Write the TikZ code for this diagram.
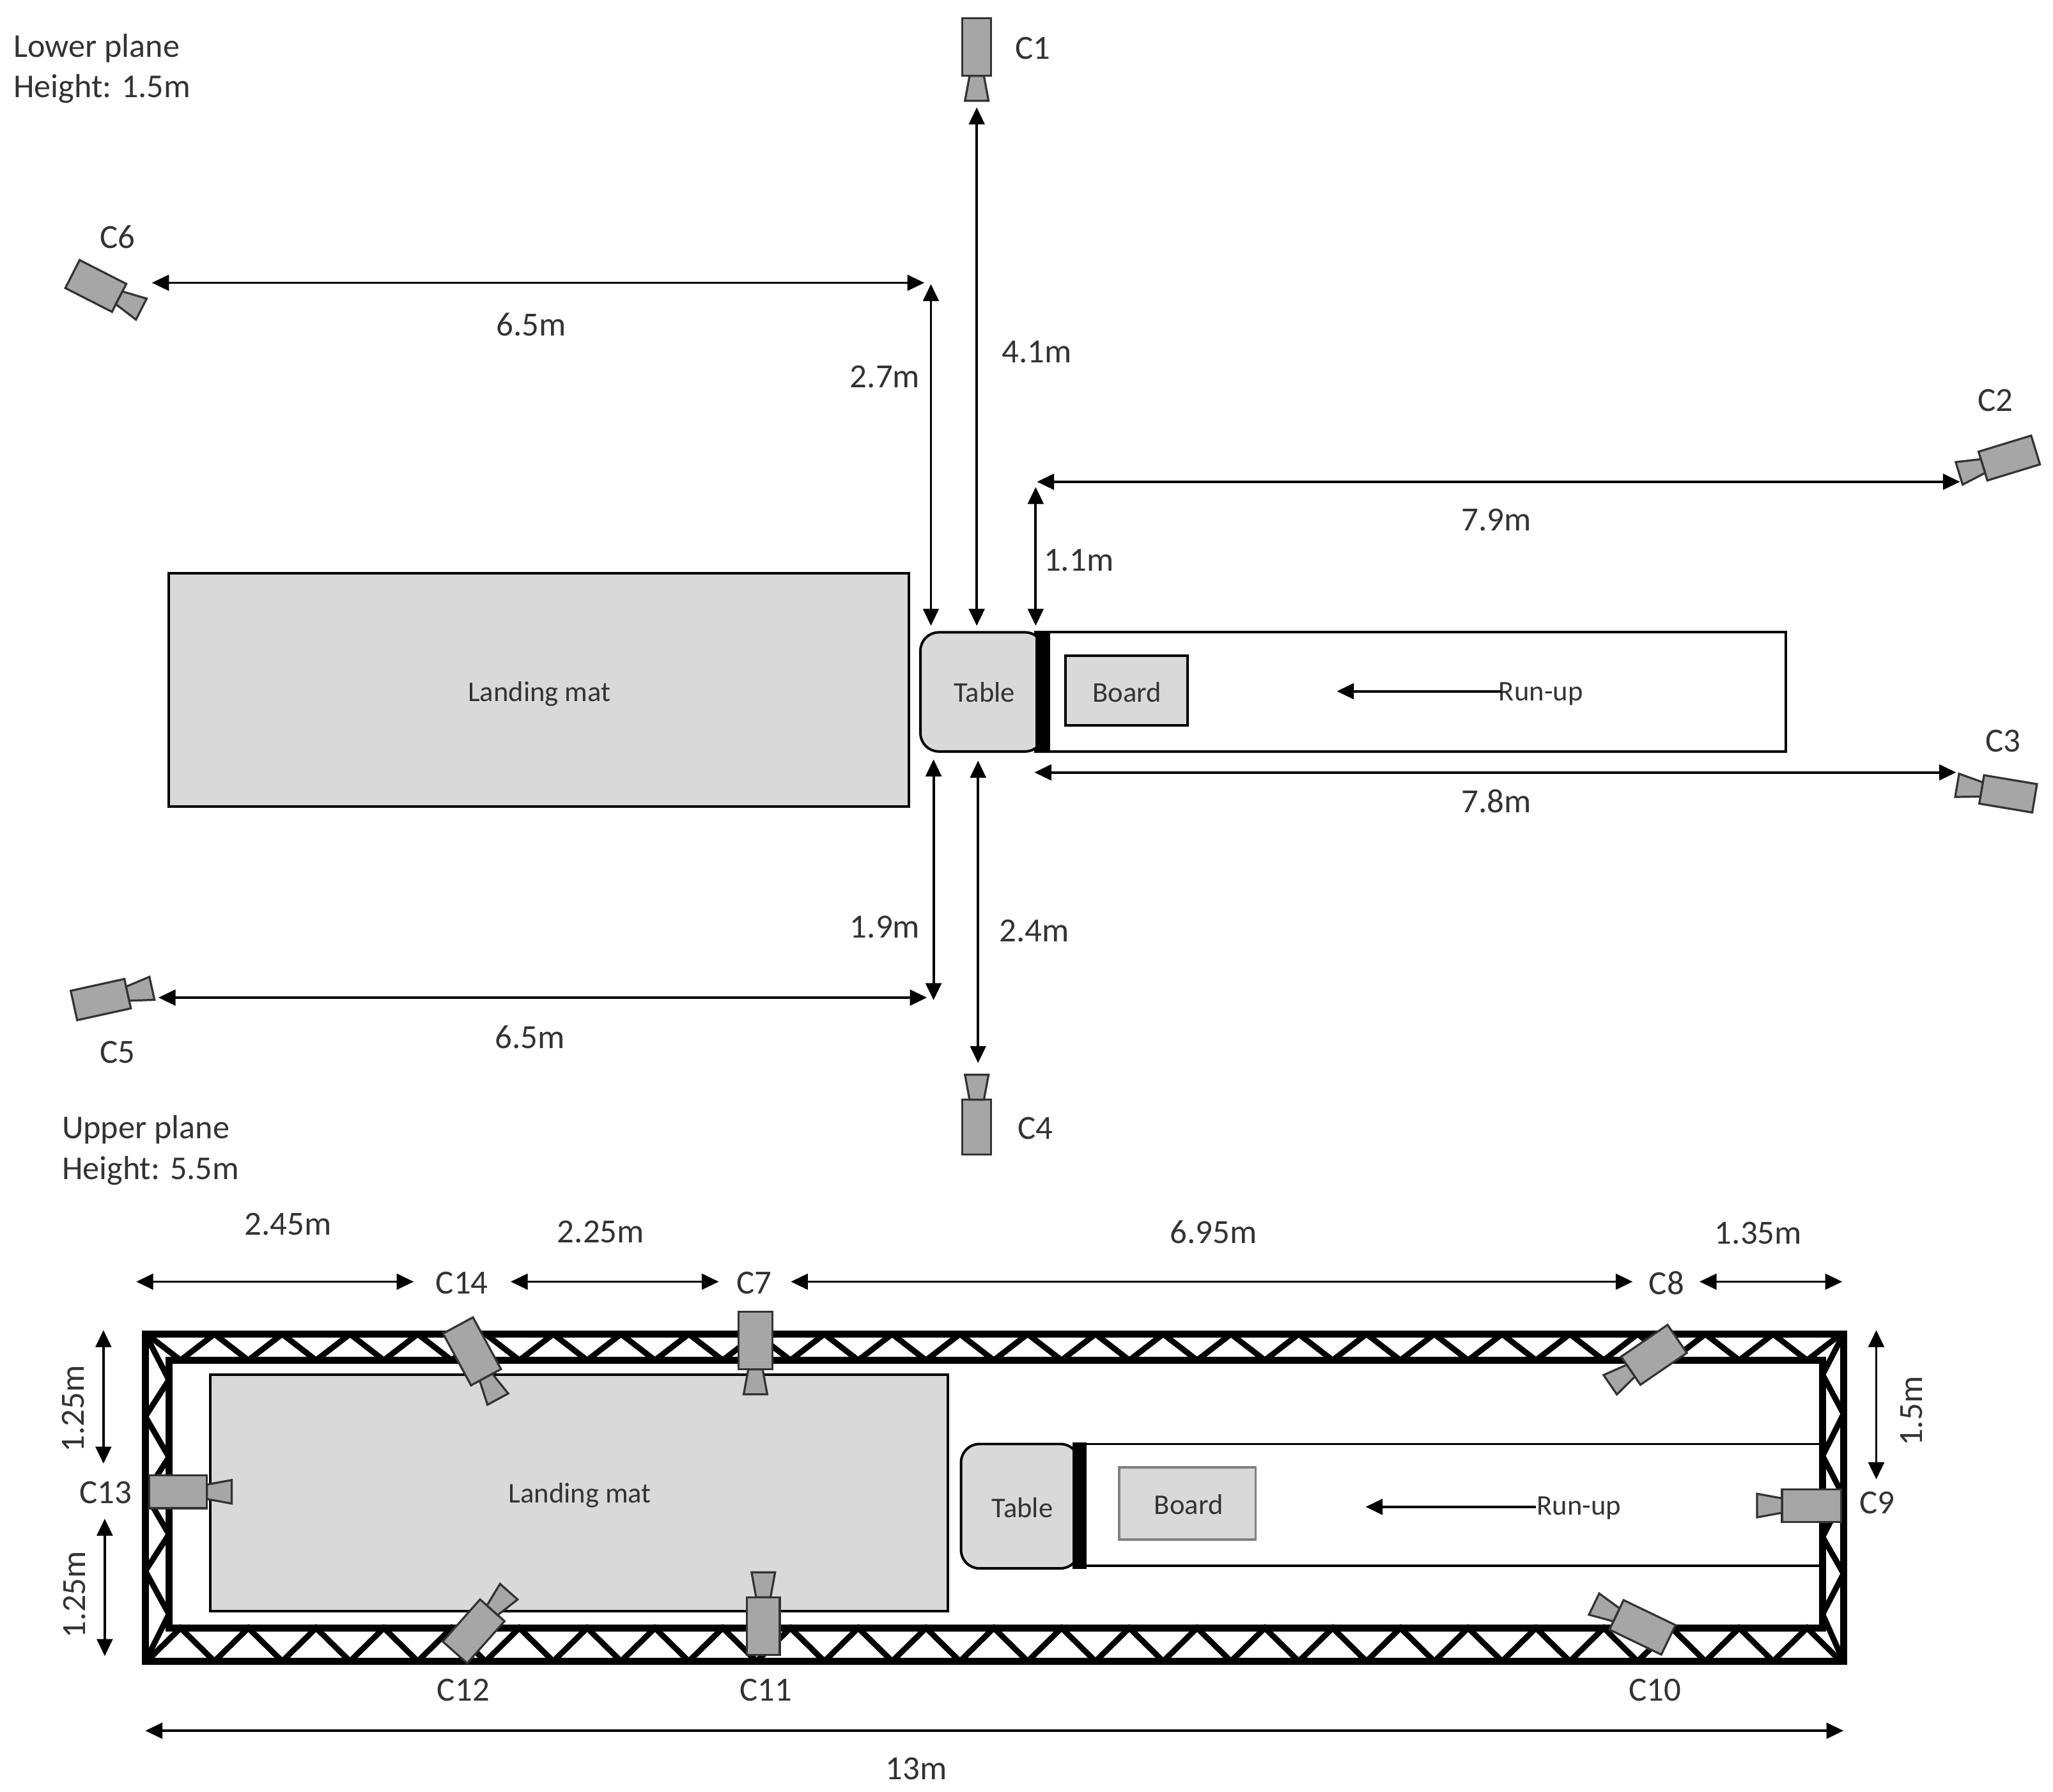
\documentclass[tikz,border=0pt]{standalone}
\usepackage{fontspec}
\setmainfont{Carlito}
\usetikzlibrary{arrows.meta}
\definecolor{matgrey}{HTML}{D9D9D9}
\definecolor{camgrey}{HTML}{A6A6A6}
\definecolor{inkgrey}{HTML}{333333}
\tikzset{
  dim/.style={draw=black,line width=1.1pt,{Triangle[length=7.4pt,width=6.8pt]}-{Triangle[length=7.4pt,width=6.8pt]}},
  lab/.style={inner sep=0pt,xshift=.5pt,text=inkgrey,font=\fontsize{14.7}{16}\selectfont},
  smalllab/.style={inner sep=0pt,xshift=.5pt,text=inkgrey,font=\fontsize{12.4}{14}\selectfont},
  plane/.style={inner sep=0pt,anchor=west,text=inkgrey,font=\fontsize{14.5}{16}\selectfont},
  block/.style={draw=black,fill=matgrey,line width=1.1pt},
  trussbar/.style={draw=black,line width=3pt,line join=miter},
  trussdiag/.style={draw=black,line width=2.5pt,line join=miter},
  pics/camera/.style n args={2}{code={
    \draw[draw=black!80,fill=camgrey,line width=.9pt] (-#2,-#1/2) rectangle (0,#1/2);
    \draw[draw=black!80,fill=camgrey,line width=.9pt] (0,-5.5) -- (19,-9) -- (19,9) -- (0,5.5) -- cycle;
  }},
}
\begin{document}
\begin{tikzpicture}[x=.02cm,y=-.02cm]
\useasboundingbox (0,0) rectangle (1568,1368.8);
% lower plane
\draw[block] (129,438) rectangle (694,616);
\draw[line width=1.1pt] (791,483) rectangle (1364,574);
\draw[block,rounded corners=.28cm] (703,483) rectangle (797,574);
\fill[black] (791,482.5) rectangle (802,574.5);
\draw[block] (814,501) rectangle (907,554);
\node[smalllab] (matL) at (411,530) {Landing mat};
\node[smalllab] (tableL) at (751,529) {Table};
\node[smalllab] (boardL) at (860,529) {Board};
\node[smalllab] (runL) at (1176,530) {Run-up};
\coordinate (runLa) at (1146,528);
\coordinate (runLb) at (1021,528);
\draw[line width=1.1pt,-{Triangle[length=7.4pt,width=6.8pt]}] (runLa) -- (runLb);
\node[plane] (lowerA) at (10,37) {Lower plane};
\node[plane] (lowerB) at (10,68) {Height: 1.5m};
% lower plane cameras
\pic[rotate=-90] (camA) at (746,58) {camera={22}{44}};
\pic[rotate=197] (camB) at (1514.5,356) {camera={23}{42}};
\pic[rotate=170.5] (camC) at (1513.5,603) {camera={22}{41}};
\pic[rotate=90] (camD) at (746,840) {camera={22}{42}};
\pic[rotate=12.4] (camE) at (97.5,759) {camera={23}{42}};
\pic[rotate=-27] (camF) at (91,227.5) {camera={24}{40}};
\node[lab] (c1) at (788,37) {C1};
\node[lab] (c2) at (1523,306) {C2};
\node[lab] (c3) at (1529,566) {C3};
\node[lab] (c4) at (790,862) {C4};
\node[lab] (c5) at (89,804) {C5};
\node[lab] (c6) at (89,181) {C6};
% lower plane distances
\coordinate (fA) at (116,216);
\coordinate (fB) at (706,216);
\coordinate (gA) at (711,217);
\coordinate (gB) at (711,478);
\coordinate (hA) at (746,82);
\coordinate (hB) at (746,478);
\coordinate (iA) at (792,368);
\coordinate (iB) at (1497,368);
\coordinate (jA) at (791,372);
\coordinate (jB) at (791,478);
\coordinate (kA) at (790,590);
\coordinate (kB) at (1494,590);
\coordinate (lA) at (713,580);
\coordinate (lB) at (713,764);
\coordinate (mA) at (747,581);
\coordinate (mB) at (747,812);
\coordinate (nA) at (121,762);
\coordinate (nB) at (708,762);
\draw[dim] (fA) -- (fB);
\draw[dim] (gA) -- (gB);
\draw[dim] (hA) -- (hB);
\draw[dim] (iA) -- (iB);
\draw[dim] (jA) -- (jB);
\draw[dim] (kA) -- (kB);
\draw[dim] (lA) -- (lB);
\draw[dim] (mA) -- (mB);
\draw[dim] (nA) -- (nB);
\node[lab] (dF) at (405,248) {6.5m};
\node[lab] (dG) at (675,288) {2.7m};
\node[lab] (dH) at (791,269) {4.1m};
\node[lab] (dI) at (1142,397) {7.9m};
\node[lab] (dJ) at (823,428) {1.1m};
\node[lab] (dK) at (1142,612) {7.8m};
\node[lab] (dL) at (675,708) {1.9m};
\node[lab] (dM) at (789,711) {2.4m};
\node[lab] (dN) at (404,792) {6.5m};
% upper plane
\node[plane] (upperA) at (47,863) {Upper plane};
\node[plane] (upperB) at (47,894) {Height: 5.5m};
\draw[trussbar] (111,1019) rectangle (1408,1269);
\draw[trussbar] (129,1039) rectangle (1392,1243.5);
\foreach \k in {0,...,24} {
  \draw[trussdiag] ({112+51.76*\k},1019) -- ({137.9+51.76*\k},1039) -- ({163.8+51.76*\k},1019);
  \draw[trussdiag] ({112+51.76*\k},1269) -- ({137.9+51.76*\k},1243.5) -- ({163.8+51.76*\k},1269);
}
\draw[trussdiag] (111,1019) -- (129,1054) -- (111,1082) -- (129,1113) -- (111,1141) -- (129,1172) -- (111,1200) -- (129,1233) -- (111,1269);
\draw[trussdiag] (1408,1019) -- (1392,1050) -- (1408,1080) -- (1392,1112) -- (1408,1143) -- (1392,1174) -- (1408,1202) -- (1392,1233) -- (1408,1269);
\draw[block] (160.5,1050) rectangle (724,1230.5);
\draw[line width=1pt] (825,1103) -- (1390,1103);
\draw[line width=1pt] (825,1196) -- (1390,1196);
\draw[block,rounded corners=.28cm] (734,1103) rectangle (824,1198);
\fill[black] (819,1102) rectangle (830,1198.5);
\draw[block,draw=black!50] (855,1121) rectangle (959,1176);
\node[smalllab] (matU) at (442,1142) {Landing mat};
\node[smalllab] (tableU) at (780,1151.5) {Table};
\node[smalllab] (boardU) at (907,1149) {Board};
\node[smalllab] (runU) at (1205,1152) {Run-up};
\coordinate (runUa) at (1173,1151);
\coordinate (runUb) at (1043,1151);
\draw[line width=1.1pt,-{Triangle[length=7.4pt,width=6.8pt]}] (runUa) -- (runUb);
% upper plane cameras
\pic[rotate=-90] (camG) at (577,1046) {camera={26}{44}};
\pic[rotate=214.4] (camH) at (1245.5,1047) {camera={26}{43}};
\pic[rotate=180] (camI) at (1361,1150) {camera={25}{45}};
\pic[rotate=154.3] (camJ) at (1234.6,1233.5) {camera={25}{44}};
\pic[rotate=90] (camK) at (583,1220) {camera={25}{44}};
\pic[rotate=48.4] (camL) at (376,1230) {camera={25}{43}};
\pic[rotate=0] (camM) at (158,1139.5) {camera={25}{44}};
\pic[rotate=-61.6] (camN) at (371.2,1052) {camera={26}{45}};
\node[lab] (c7) at (575,980) {C7};
\node[lab] (c8) at (1272,980) {C8};
\node[lab] (c9) at (1433,1148) {C9};
\node[lab] (c10) at (1263,1291) {C10};
\node[lab] (c11) at (584,1291) {C11};
\node[lab] (c12) at (353,1291) {C12};
\node[lab] (c13) at (80,1140) {C13};
\node[lab] (c14) at (352,980) {C14};
% upper plane distances
\coordinate (oA) at (104,979);
\coordinate (oB) at (316,979);
\coordinate (pA) at (390,979);
\coordinate (pB) at (549,979);
\coordinate (qA) at (604,979);
\coordinate (qB) at (1247,979);
\coordinate (rA) at (1298,979);
\coordinate (rB) at (1407,979);
\coordinate (sA) at (79,1016);
\coordinate (sB) at (79,1118);
\coordinate (tA) at (80,1160);
\coordinate (tB) at (80,1265);
\coordinate (uA) at (1433,1016);
\coordinate (uB) at (1433,1130);
\coordinate (vA) at (111,1322);
\coordinate (vB) at (1408,1322);
\draw[dim] (oA) -- (oB);
\draw[dim] (pA) -- (pB);
\draw[dim] (qA) -- (qB);
\draw[dim] (rA) -- (rB);
\draw[dim] (sA) -- (sB);
\draw[dim] (tA) -- (tB);
\draw[dim] (uA) -- (uB);
\draw[dim] (vA) -- (vB);
\node[lab] (dO) at (219,935) {2.45m};
\node[lab] (dP) at (458,941) {2.25m};
\node[lab] (dQ) at (926,941) {6.95m};
\node[lab] (dR) at (1342,942) {1.35m};
\node[lab,rotate=90] (dS) at (55,1076) {1.25m};
\node[lab,rotate=90] (dT) at (56,1218) {1.25m};
\node[lab,rotate=90] (dU) at (1459,1078) {1.5m};
\node[lab] (dV) at (699,1351) {13m};
\end{tikzpicture}
\end{document}
